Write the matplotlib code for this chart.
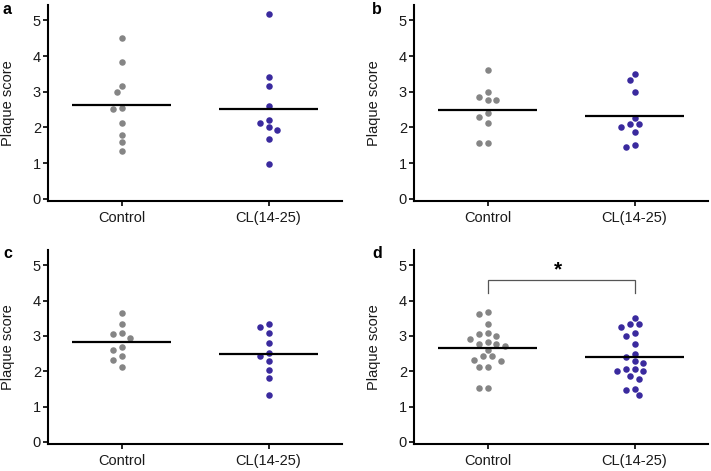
import numpy as np
import matplotlib
matplotlib.use("Agg")
import matplotlib.pyplot as plt

plt.rcParams['font.family'] = ['Liberation Sans', 'DejaVu Sans']

# ---- data (plaque scores) ----
groups = ["Control", "CL(14-25)"]

a_control = [4.50, 3.83, 3.16, 3.00, 2.55, 2.51, 2.13, 1.80, 1.59, 1.34]
a_cl = [5.17, 3.42, 3.17, 2.59, 2.22, 2.13, 2.01, 1.93, 1.68, 0.97]

b_control = [3.62, 3.00, 2.85, 2.76, 2.76, 2.41, 2.30, 2.13, 1.56, 1.56]
b_cl = [3.51, 3.34, 3.00, 2.26, 2.09, 2.09, 2.01, 1.88, 1.50, 1.46]

c_control = [3.66, 3.34, 3.09, 3.05, 2.93, 2.68, 2.61, 2.44, 2.33, 2.13]
c_cl = [3.34, 3.26, 3.09, 2.79, 2.51, 2.43, 2.30, 2.02, 1.80, 1.34]

d_control = [3.67, 3.62, 3.33, 3.07, 3.04, 3.00, 2.92, 2.82, 2.76, 2.76,
             2.72, 2.61, 2.42, 2.42, 2.33, 2.29, 2.12, 2.12, 1.53, 1.53]
d_cl = [3.50, 3.33, 3.33, 3.24, 3.07, 3.00, 2.78, 2.50, 2.41, 2.29,
        2.24, 2.07, 2.07, 2.01, 2.00, 1.87, 1.79, 1.51, 1.46, 1.33]

panel_letters = ["a", "b", "c", "d"]
yticks = [0, 1, 2, 3, 4, 5]
ylabel = "Plaque score"
sig_label = "*"

GRAY = "#858585"
BLUE = "#3a2a9e"
W, H = 711, 471


def swarm_offsets(ax, xc, vals, step_px=4.4, min_px=7.2):
    """Simple beeswarm: shift points sideways in fixed steps until they don't overlap."""
    vals = np.asarray(vals, dtype=float)
    pts = ax.transData.transform(np.column_stack([np.full(len(vals), xc), vals]))
    ypx = pts[:, 1]
    px_per_unit = ax.transData.transform([[1, 0]])[0, 0] - ax.transData.transform([[0, 0]])[0, 0]
    placed = []
    offs = np.zeros(len(vals))
    for i in np.argsort(-vals, kind="stable"):
        for k in [0, -1, 1, -2, 2, -3, 3, -4, 4, -5, 5, -6, 6]:
            dx = k * step_px
            if all((dx - qx) ** 2 + (ypx[i] - qy) ** 2 >= min_px ** 2 for qx, qy in placed):
                break
        placed.append((dx, ypx[i]))
        offs[i] = dx / px_per_unit
    return offs


fig = plt.figure(figsize=(W / 100, H / 100), dpi=100)

# axes boxes in pixels: left, top, right, bottom
boxes = [(48, 5, 342, 201), (414, 5, 708, 201),
         (48, 250, 342, 444), (414, 250, 708, 444)]
panels = [(a_control, a_cl), (b_control, b_cl), (c_control, c_cl), (d_control, d_cl)]

for idx, (box, (ctrl, cl)) in enumerate(zip(boxes, panels)):
    l, t, r, b = box
    ax = fig.add_axes([l / W, 1 - b / H, (r - l) / W, (b - t) / H])
    ax.set_xlim(-0.5, 1.5)
    ax.set_ylim(-0.06, 5.43)

    for xc, vals, col in [(0, ctrl, GRAY), (1, cl, BLUE)]:
        offs = swarm_offsets(ax, xc, vals)
        ax.scatter(xc + offs, vals, s=22, color=col, linewidths=0, zorder=3)
        m = np.mean(vals)
        ax.plot([xc - 0.34, xc + 0.34], [m, m], color="black", lw=1.6, zorder=4,
                solid_capstyle="butt")

    for side in ["top", "right"]:
        ax.spines[side].set_visible(False)
    for side in ["left", "bottom"]:
        ax.spines[side].set_linewidth(1.5)
    ax.set_xticks([0, 1])
    ax.set_xticklabels(groups, fontsize=10.5, color="#1a1a1a")
    ax.set_yticks(yticks)
    ax.set_yticklabels([str(v) for v in yticks], fontsize=10.5, color="#1a1a1a")
    ax.tick_params(axis="both", direction="out", length=3.5, width=1.2)
    ax.tick_params(axis="x", pad=4)
    ax.tick_params(axis="y", pad=1.5)
    ax.set_ylabel(ylabel, fontsize=10.5, labelpad=13, color="#1a1a1a")

    fig.text((l - 45 if l < 100 else l - 42) / W, 1 - (t + 8.5) / H, panel_letters[idx],
             fontsize=11.5, fontweight="bold", va="baseline", ha="left")

    if idx == 3:
        ax.plot([0, 0, 1, 1], [4.22, 4.59, 4.59, 4.22], color="#555555", lw=0.9,
                solid_joinstyle="miter")
        ax.text(0.48, 4.60, sig_label, fontsize=15, fontweight="bold",
                ha="center", va="bottom")

fig.savefig("out.png", dpi=100)
